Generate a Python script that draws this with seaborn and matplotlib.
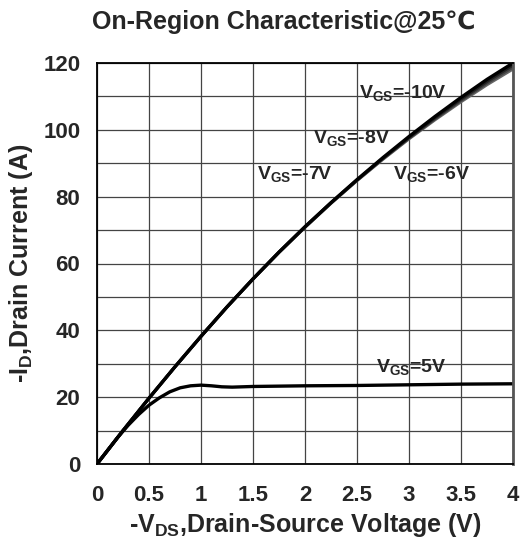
import numpy as np
import pandas as pd
import seaborn as sns
import matplotlib.pyplot as plt

# curve data
vds_main = [0, 0.25, 0.5, 0.75, 1.0, 1.25, 1.5, 1.75, 2.0, 2.25, 2.5, 2.75, 3.0, 3.25, 3.5, 3.75, 4.0]
id_m10 = [0, 10, 19.7, 29.1, 38.2, 47, 55.4, 63.4, 71, 78.2, 85.1, 91.7, 98, 104, 109.7, 115.1, 120]
id_m8 = [0, 10, 19.7, 29.1, 38.2, 47, 55.4, 63.4, 71, 78.2, 85.0, 91.5, 97.7, 103.6, 109.2, 114.5, 119.4]
id_m7 = [0, 10, 19.7, 29.1, 38.2, 47, 55.4, 63.4, 70.9, 78.1, 84.9, 91.4, 97.5, 103.3, 108.8, 114.0, 118.8]
id_m6 = [0, 10, 19.7, 29.1, 38.2, 47, 55.3, 63.3, 70.8, 78.0, 84.8, 91.2, 97.3, 103.0, 108.4, 113.5, 118.2]

vds_5 = [0, 0.1, 0.2, 0.3, 0.4, 0.5, 0.6, 0.7, 0.8, 0.9, 1.0, 1.1, 1.2, 1.3, 1.5, 2.0, 2.5, 3.0, 3.5, 4.0]
id_5 = [0, 4, 8, 11.6, 14.8, 17.6, 19.8, 21.6, 22.8, 23.4, 23.6, 23.4, 23.1, 23.0, 23.2, 23.4, 23.5, 23.7, 23.9, 24.0]

curve_labels = ['-10V', '-8V', '-7V', '-6V', '5V']
label_x = [2.52, 2.08, 1.535, 2.85, 2.68]
label_y = [109.5, 96, 85.3, 85.3, 27.5]

xticks = [0, 0.5, 1, 1.5, 2, 2.5, 3, 3.5, 4]
xtick_labels = ['0', '0.5', '1', '1.5', '2', '2.5', '3', '3.5', '4']
yticks = [0, 20, 40, 60, 80, 100, 120]

sns.set_style('white')
plt.rcParams['font.family'] = ['Liberation Sans', 'DejaVu Sans']
plt.rcParams['font.weight'] = 'bold'
plt.rcParams['mathtext.fontset'] = 'custom'
plt.rcParams['mathtext.rm'] = 'Liberation Sans:bold'
plt.rcParams['mathtext.bf'] = 'Liberation Sans:bold'
plt.rcParams['mathtext.it'] = 'Liberation Sans:bold'

fig = plt.figure(figsize=(5.22, 5.41), dpi=100)
ax = fig.add_axes([97/522, 1-464/541, 416/522, 401/541])

sns.lineplot(x=vds_main, y=id_m6, color='#666666', lw=2.2, ax=ax)
sns.lineplot(x=vds_main, y=id_m7, color='#444444', lw=2.2, ax=ax)
sns.lineplot(x=vds_main, y=id_m8, color='#222222', lw=2.2, ax=ax)
sns.lineplot(x=vds_main, y=id_m10, color='black', lw=2.4, ax=ax)
sns.lineplot(x=vds_5, y=id_5, color='black', lw=2.4, ax=ax)

ax.set_xlim(0, 4)
ax.set_ylim(0, 120)
ax.set_xticks(xticks)
ax.set_xticklabels(xtick_labels)
ax.set_yticks(yticks)
ax.set_yticks(list(range(10, 120, 20)), minor=True)
ax.grid(True, which='both', color='#444444', lw=0.9)
ax.set_axisbelow(True)
ax.tick_params(axis='both', which='both', length=0, labelsize=16)
ax.tick_params(axis='x', pad=15)
ax.tick_params(axis='y', pad=12)
for lbl in ax.get_xticklabels() + ax.get_yticklabels():
    lbl.set_fontweight('bold')
for s in ax.spines.values():
    s.set_color('black')
    s.set_linewidth(1.3)
ax.spines['right'].set_color('#555555')
ax.spines['right'].set_linewidth(2)

for name, tx, ty in zip(curve_labels, label_x, label_y):
    ax.text(tx, ty, r'$\mathrm{V_{GS}}$=' + name, fontsize=14, fontweight='bold',
            ha='left', va='baseline')

ax.set_xlabel(r'-$\mathrm{V_{DS}}$,Drain-Source Voltage (V)', fontsize=18, fontweight='bold', labelpad=4)
ax.set_ylabel(r'-$\mathrm{I_{D}}$,Drain Current (A)', fontsize=18, fontweight='bold', labelpad=6)
fig.text(284/522, 1-22/541, 'On-Region Characteristic@25℃', fontsize=18, fontweight='bold',
         ha='center', va='center')

fig.savefig('out.png', dpi=100)
